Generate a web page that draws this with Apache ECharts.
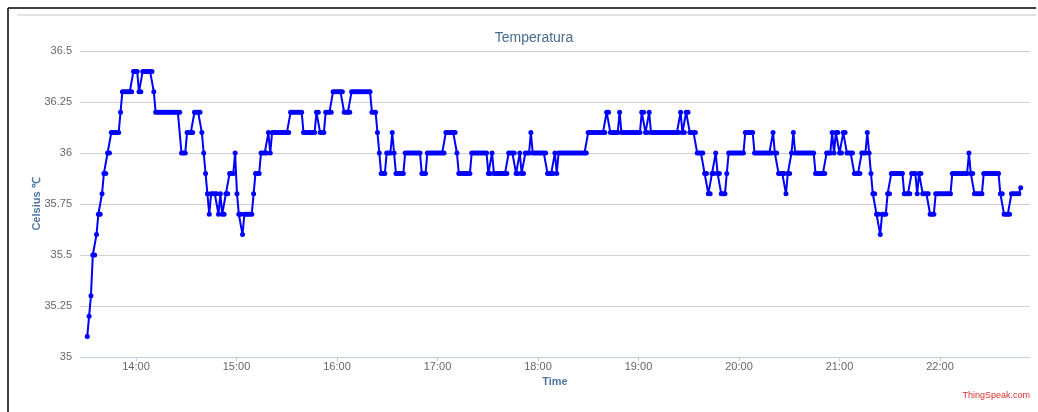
<!DOCTYPE html>
<html>
<head>
<meta charset="utf-8">
<title>Temperatura</title>
<script src="https://cdn.jsdelivr.net/npm/echarts@6/dist/echarts.min.js"></script>
<style>
  html, body { margin: 0; padding: 0; background: #fff; }
  #chart { width: 1038px; height: 412px; }
</style>
</head>
<body>
<div id="chart"></div>
<script>
// readings, one per sample, from first (about 13:30:54) to last (about 22:48:11)
const firstTime = '13:30:54';
const lastTime = '22:48:11';
const temperatures = [
  35.1, 35.2, 35.3, 35.5, 35.5, 35.6, 35.7, 35.7, 35.8, 35.9, 35.9, 36.0, 36.0,
  36.1, 36.1, 36.1, 36.1, 36.1, 36.2, 36.3, 36.3, 36.3, 36.3, 36.3, 36.3,
  36.4, 36.4, 36.4, 36.3, 36.3, 36.4, 36.4, 36.4, 36.4, 36.4, 36.4, 36.3,
  36.2, 36.2, 36.2, 36.2, 36.2, 36.2, 36.2, 36.2, 36.2, 36.2, 36.2, 36.2, 36.2, 36.2,
  36.0, 36.0, 36.0, 36.1, 36.1, 36.1, 36.1, 36.2, 36.2, 36.2, 36.2,
  36.1, 36.0, 35.9, 35.8, 35.7, 35.8, 35.8, 35.8, 35.8, 35.7, 35.8, 35.7, 35.7,
  35.8, 35.8, 35.9, 35.9, 35.9, 36.0, 35.8, 35.7, 35.7, 35.6,
  35.7, 35.7, 35.7, 35.7, 35.7, 35.8, 35.9, 35.9, 35.9, 36.0, 36.0, 36.0, 36.0,
  36.1, 36.0, 36.1, 36.1, 36.1, 36.1, 36.1, 36.1, 36.1, 36.1, 36.1, 36.1,
  36.2, 36.2, 36.2, 36.2, 36.2, 36.2, 36.2, 36.1, 36.1, 36.1, 36.1, 36.1, 36.1, 36.1,
  36.2, 36.2, 36.1, 36.1, 36.1, 36.2, 36.2, 36.2, 36.2,
  36.3, 36.3, 36.3, 36.3, 36.3, 36.3, 36.2, 36.2, 36.2, 36.2,
  36.3, 36.3, 36.3, 36.3, 36.3, 36.3, 36.3, 36.3, 36.3, 36.3, 36.3,
  36.2, 36.2, 36.2, 36.1, 36.0, 35.9, 35.9, 35.9, 36.0, 36.0, 36.0, 36.1, 36.0,
  35.9, 35.9, 35.9, 35.9, 35.9, 36.0, 36.0, 36.0, 36.0, 36.0, 36.0, 36.0, 36.0, 36.0,
  35.9, 35.9, 35.9, 36.0, 36.0, 36.0, 36.0, 36.0, 36.0, 36.0, 36.0, 36.0, 36.0,
  36.1, 36.1, 36.1, 36.1, 36.1, 36.1, 36.0, 35.9, 35.9, 35.9, 35.9, 35.9, 35.9, 35.9,
  36.0, 36.0, 36.0, 36.0, 36.0, 36.0, 36.0, 36.0, 36.0, 35.9, 35.9, 36.0,
  35.9, 35.9, 35.9, 35.9, 35.9, 35.9, 35.9, 35.9, 36.0, 36.0, 36.0, 36.0,
  35.9, 35.9, 36.0, 35.9, 35.9, 36.0, 36.0, 36.0, 36.1,
  36.0, 36.0, 36.0, 36.0, 36.0, 36.0, 36.0, 36.0, 35.9, 35.9, 35.9, 35.9, 36.0, 35.9,
  36.0, 36.0, 36.0, 36.0, 36.0, 36.0, 36.0, 36.0, 36.0, 36.0, 36.0, 36.0, 36.0, 36.0, 36.0, 36.0,
  36.1, 36.1, 36.1, 36.1, 36.1, 36.1, 36.1, 36.1, 36.1, 36.1, 36.2, 36.2,
  36.1, 36.1, 36.1, 36.1, 36.1, 36.2, 36.1, 36.1, 36.1, 36.1, 36.1, 36.1, 36.1, 36.1, 36.1, 36.1, 36.1,
  36.2, 36.2, 36.1, 36.1, 36.2,
  36.1, 36.1, 36.1, 36.1, 36.1, 36.1, 36.1, 36.1, 36.1, 36.1, 36.1, 36.1, 36.1, 36.1, 36.1, 36.1,
  36.2, 36.1, 36.1, 36.2, 36.2, 36.1, 36.1, 36.1, 36.1,
  36.0, 36.0, 36.0, 36.0, 35.9, 35.9, 35.8, 35.8, 35.9, 35.9, 36.0, 35.9, 35.9, 35.8, 35.8, 35.8, 35.9,
  36.0, 36.0, 36.0, 36.0, 36.0, 36.0, 36.0, 36.0, 36.0, 36.1, 36.1, 36.1, 36.1, 36.1,
  36.0, 36.0, 36.0, 36.0, 36.0, 36.0, 36.0, 36.0, 36.0, 36.0, 36.1, 36.0, 36.0,
  35.9, 35.9, 35.9, 35.9, 35.8, 35.9, 35.9, 36.0, 36.1,
  36.0, 36.0, 36.0, 36.0, 36.0, 36.0, 36.0, 36.0, 36.0, 36.0, 36.0, 35.9, 35.9, 35.9, 35.9, 35.9, 35.9,
  36.0, 36.0, 36.0, 36.1, 36.0, 36.1, 36.1, 36.0, 36.0, 36.1, 36.1,
  36.0, 36.0, 36.0, 36.0, 35.9, 35.9, 35.9, 35.9, 36.0, 36.0, 36.0, 36.1, 36.0, 35.9,
  35.8, 35.8, 35.7, 35.7, 35.6, 35.7, 35.7, 35.7, 35.8, 35.8,
  35.9, 35.9, 35.9, 35.9, 35.9, 35.9, 35.9, 35.8, 35.8, 35.8, 35.8,
  35.9, 35.9, 35.9, 35.8, 35.9, 35.9, 35.8, 35.8, 35.8, 35.8, 35.7, 35.7, 35.7,
  35.8, 35.8, 35.8, 35.8, 35.8, 35.8, 35.8, 35.8, 35.8, 35.9, 35.9, 35.9, 35.9, 35.9, 35.9, 35.9, 35.9, 35.9,
  36.0, 35.9, 35.9, 35.8, 35.8, 35.8, 35.8, 35.8,
  35.9, 35.9, 35.9, 35.9, 35.9, 35.9, 35.9, 35.9, 35.9, 35.8, 35.8, 35.7, 35.7, 35.7, 35.7,
  35.8, 35.8, 35.8, 35.8, 35.8, 35.83
];
const timeTicks = ['14:00', '15:00', '16:00', '17:00', '18:00', '19:00', '20:00', '21:00', '22:00'];
// visible time window of the x axis
const axisStart = '13:26:34';
const axisEnd = '22:53:44';

function toMinutes(s) {
  const p = s.split(':').map(Number);
  return p[0] * 60 + p[1] + (p[2] || 0) / 60;
}
function fmtTime(m) {
  const h = Math.floor(m / 60), mm = Math.round(m % 60);
  return h + ':' + (mm < 10 ? '0' : '') + mm;
}

const t0 = toMinutes(firstTime);
const step = (toMinutes(lastTime) - t0) / (temperatures.length - 1);
const seriesData = temperatures.map((v, i) => [t0 + i * step, v]);
const tickMinutes = timeTicks.map(toMinutes);

const chart = echarts.init(document.getElementById('chart'));
chart.setOption({
  animation: false,
  backgroundColor: '#fff',
  textStyle: { fontFamily: 'Liberation Sans, Arial, sans-serif' },
  title: {
    text: 'Temperatura',
    left: 529,
    top: 26,
    textAlign: 'center',
    textStyle: { color: '#4a6b8f', fontSize: 14, fontWeight: 'normal' }
  },
  grid: { left: 80, right: 8, top: 51, bottom: 55 },
  xAxis: {
    type: 'value',
    min: toMinutes(axisStart),
    max: toMinutes(axisEnd),
    name: 'Time',
    nameLocation: 'middle',
    nameGap: 19,
    nameMoveOverlap: false,
    nameTextStyle: { color: '#4d759e', fontWeight: 'bold', fontSize: 11 },
    axisLine: { show: true, lineStyle: { color: '#C0D0E0', width: 1 } },
    axisTick: { show: true, length: 4, customValues: tickMinutes, lineStyle: { color: '#C0D0E0' } },
    axisLabel: {
      customValues: tickMinutes,
      formatter: fmtTime,
      color: '#666',
      fontSize: 11,
      margin: 4
    },
    splitLine: { show: false }
  },
  yAxis: {
    type: 'value',
    min: 35,
    max: 36.5,
    interval: 0.25,
    name: 'Celsius ℃',
    nameLocation: 'middle',
    nameRotate: 90,
    nameGap: 38,
    nameMoveOverlap: false,
    nameTextStyle: { color: '#4d759e', fontWeight: 'bold', fontSize: 11 },
    axisLine: { show: false },
    axisTick: { show: false },
    axisLabel: { color: '#666', fontSize: 11, margin: 8 },
    splitLine: { lineStyle: { color: '#d0d0d0', width: 1 } }
  },
  series: [{
    name: 'Temperatura',
    type: 'line',
    data: seriesData,
    showAllSymbol: true,
    symbol: 'circle',
    symbolSize: 5,
    lineStyle: { color: '#0000ff', width: 2 },
    itemStyle: { color: '#0000ff' }
  }],
  graphic: [
    { type: 'line', shape: { x1: 8, y1: 8, x2: 8, y2: 412 }, style: { stroke: '#000', lineWidth: 1.5 } },
    { type: 'line', shape: { x1: 8, y1: 8, x2: 1036, y2: 8 }, style: { stroke: '#000', lineWidth: 1.5 } },
    { type: 'line', shape: { x1: 17, y1: 15, x2: 1036, y2: 15 }, style: { stroke: '#c8c8c8', lineWidth: 1 } },
    {
      type: 'text', right: 8, top: 391,
      style: { text: 'ThingSpeak.com', fill: '#d62d2d', fontSize: 9, fontFamily: 'Liberation Sans, Arial, sans-serif' }
    }
  ]
});
</script>
</body>
</html>
